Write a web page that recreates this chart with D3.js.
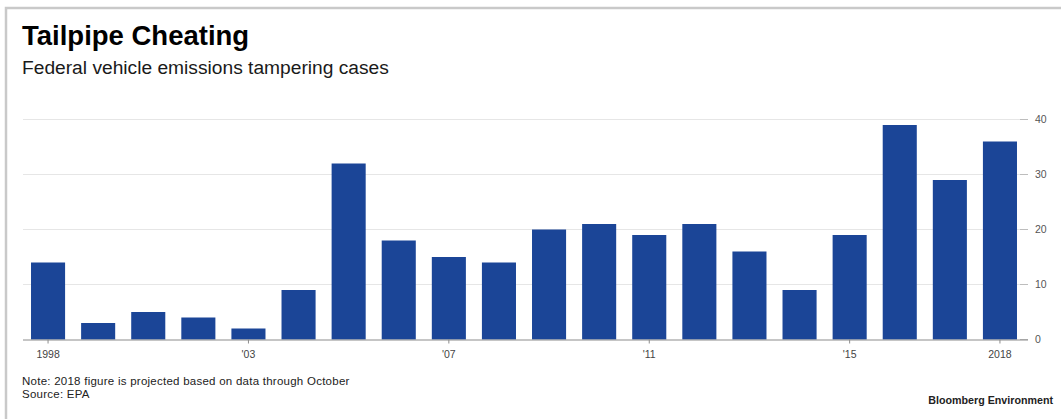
<!DOCTYPE html>
<html>
<head>
<meta charset="utf-8">
<script src="https://cdn.jsdelivr.net/npm/d3@7"></script>
<style>
  body { margin: 0; background: #fff; }
  svg { display: block; font-family: "Liberation Sans", Arial, sans-serif; }
</style>
</head>
<body>
<div id="chart"></div>
<script>
// data
const years = [1999, 2000, 2001, 2002, 2003, 2004, 2005, 2006, 2007, 2008,
               2009, 2010, 2011, 2012, 2013, 2014, 2015, 2016, 2017, 2018];
const cases = [14, 3, 5, 4, 2, 9, 32, 18, 15, 14,
               20, 21, 19, 21, 16, 9, 19, 39, 29, 36];
const tickYears = [1999, 2003, 2007, 2011, 2015, 2018];
const tickLabels = ["1998", "'03", "'07", "'11", "'15", "2018"];
const yTicks = [0, 10, 20, 30, 40];

const width = 1061, height = 419;
const barColor = "#1b4597";

const svg = d3.select("#chart").append("svg")
  .attr("width", width)
  .attr("height", height);

// frame
svg.append("path")
  .attr("d", "M6,419 V8 H1061")
  .attr("fill", "none")
  .attr("stroke", "#c9c9c9")
  .attr("stroke-width", 2.5);

// titles
svg.append("text")
  .attr("x", 22).attr("y", 45)
  .attr("font-size", 27.5).attr("font-weight", "bold")
  .attr("fill", "#000")
  .text("Tailpipe Cheating");

svg.append("text")
  .attr("x", 22).attr("y", 74)
  .attr("font-size", 19.2)
  .attr("fill", "#1a1a1a")
  .text("Federal vehicle emissions tampering cases");

// scales
const x = d3.scaleBand()
  .domain(years)
  .range([23, 1025])
  .paddingInner(0.32)
  .paddingOuter(0.16);

const y = d3.scaleLinear()
  .domain([0, 40])
  .range([339.5, 119.5]);

// gridlines + right axis
const yAxis = d3.axisRight(y)
  .tickValues(yTicks)
  .tickSize(0)
  .tickPadding(0);

const gy = svg.append("g")
  .attr("transform", "translate(1035,0)")
  .call(yAxis);
gy.select(".domain").remove();
gy.selectAll("text")
  .attr("font-size", 10.5)
  .attr("font-family", "Liberation Sans, Arial, sans-serif")
  .attr("fill", "#555");

svg.append("g")
  .selectAll("line")
  .data(yTicks.filter(d => d > 0))
  .join("line")
  .attr("x1", 23).attr("x2", 1020)
  .attr("y1", d => y(d)).attr("y2", d => y(d))
  .attr("stroke", "#e6e6e6");

svg.append("g")
  .selectAll("line")
  .data(yTicks)
  .join("line")
  .attr("x1", 1020).attr("x2", 1028)
  .attr("y1", d => y(d)).attr("y2", d => y(d))
  .attr("stroke", "#bdbdbd");

// bars
svg.append("g")
  .selectAll("rect")
  .data(years)
  .join("rect")
  .attr("x", d => x(d))
  .attr("width", x.bandwidth())
  .attr("y", (d, i) => y(cases[i]))
  .attr("height", (d, i) => y(0) - y(cases[i]))
  .attr("fill", barColor);

// x axis
const xAxis = d3.axisBottom(x)
  .tickValues(tickYears)
  .tickFormat(d => tickLabels[tickYears.indexOf(d)])
  .tickSize(4)
  .tickSizeOuter(0)
  .tickPadding(7);

const gx = svg.append("g")
  .attr("transform", "translate(0," + y(0) + ")")
  .call(xAxis);
gx.select(".domain")
  .attr("d", "M23,0.5H1028")
  .attr("stroke", "#8c8c8c");
gx.selectAll(".tick line").attr("stroke", "#8c8c8c");
gx.selectAll("text")
  .attr("font-size", 10.5)
  .attr("font-family", "Liberation Sans, Arial, sans-serif")
  .attr("fill", "#444");

// footer
svg.append("text")
  .attr("x", 22).attr("y", 385)
  .attr("font-size", 11.5)
  .attr("letter-spacing", 0.25)
  .attr("fill", "#222")
  .text("Note: 2018 figure is projected based on data through October");

svg.append("text")
  .attr("x", 22).attr("y", 398)
  .attr("font-size", 11.5)
  .attr("letter-spacing", 0.25)
  .attr("fill", "#222")
  .text("Source: EPA");

svg.append("text")
  .attr("x", 1053).attr("y", 404)
  .attr("text-anchor", "end")
  .attr("font-size", 10.7)
  .attr("font-weight", "bold")
  .attr("fill", "#222")
  .text("Bloomberg Environment");
</script>
</body>
</html>
